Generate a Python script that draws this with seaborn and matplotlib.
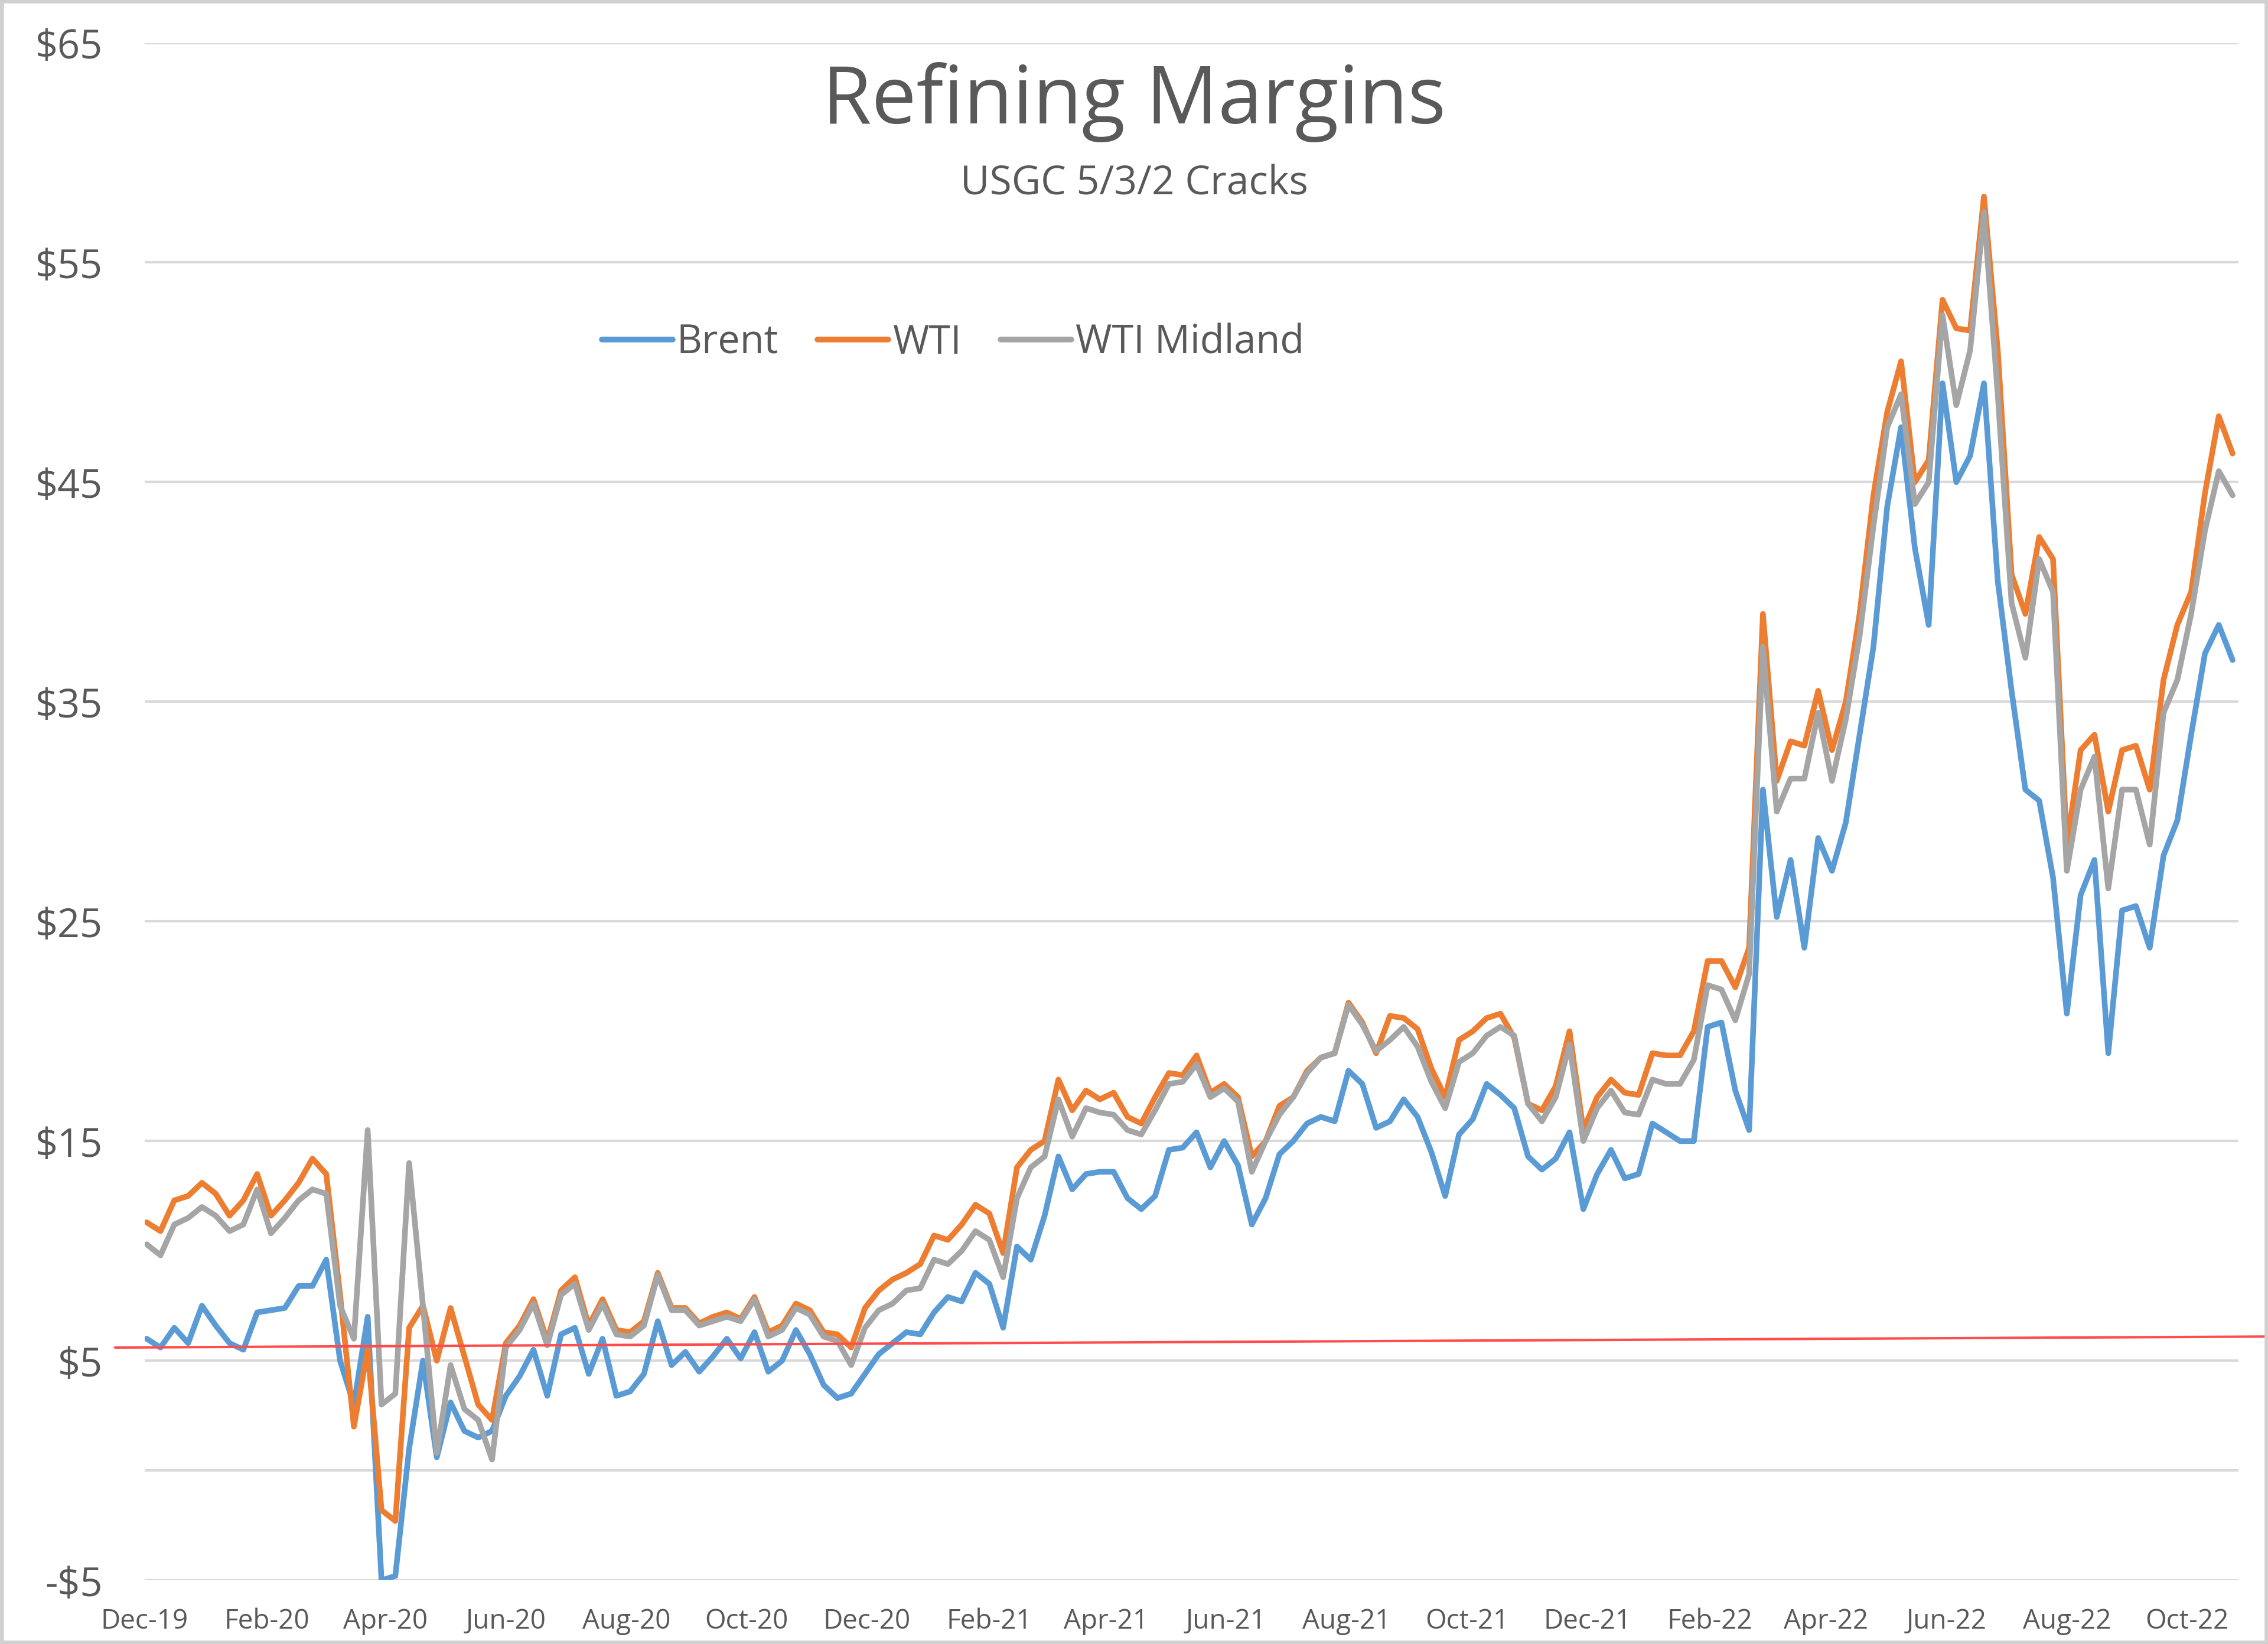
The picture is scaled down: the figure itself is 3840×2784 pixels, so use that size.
import seaborn as sns
import numpy as np
import pandas as pd
import matplotlib
matplotlib.use('Agg')
from matplotlib import pyplot as plt, dates as mdates
from matplotlib.patches import Rectangle

# weekly readings, Dec 2019 - Oct 2022
dates = pd.date_range('2019-12-02', periods=152, freq='7D')

brent = [
    6.0, 5.6, 6.5, 5.8, 7.5, 6.6, 5.8, 5.5, 7.2, 7.3, 7.4, 8.4, 8.4, 9.6, 5.0, 3.0,
    7.0, -5.0, -4.8, 1.0, 5.0, 0.6, 3.1, 1.8, 1.5, 1.8, 3.4, 4.3, 5.5, 3.4, 6.2, 6.5,
    4.4, 6.0, 3.4, 3.6, 4.4, 6.8, 4.8, 5.4, 4.5, 5.2, 6.0, 5.1, 6.3, 4.5, 5.0, 6.4,
    5.3, 3.9, 3.3, 3.5, 4.4, 5.3, 5.8, 6.3, 6.2, 7.2, 7.9, 7.7, 9.0, 8.5, 6.5, 10.2,
    9.6, 11.6, 14.3, 12.8, 13.5, 13.6, 13.6, 12.4, 11.9, 12.5, 14.6, 14.7, 15.4, 13.8,
    15.0, 13.9, 11.2, 12.4, 14.4, 15.0, 15.8, 16.1, 15.9, 18.2, 17.6, 15.6, 15.9, 16.9,
    16.1, 14.5, 12.5, 15.3, 16.0, 17.6, 17.1, 16.5, 14.3, 13.7, 14.2, 15.4, 11.9, 13.5,
    14.6, 13.3, 13.5, 15.8, 15.4, 15.0, 15.0, 20.2, 20.4, 17.3, 15.5, 31.0, 25.2, 27.8,
    23.8, 28.8, 27.3, 29.5, 33.5, 37.5, 43.9, 47.5, 42.0, 38.5, 49.5, 45.0, 46.2, 49.5,
    40.5, 35.5, 31.0, 30.5, 27.0, 20.8, 26.2, 27.8, 19.0, 25.5, 25.7, 23.8, 28.0, 29.6,
    33.5, 37.2, 38.5, 36.9,
]

wti = [
    11.3, 10.9, 12.3, 12.5, 13.1, 12.6, 11.6, 12.3, 13.5, 11.6, 12.3, 13.1, 14.2, 13.5,
    8.0, 2.0, 5.5, -1.8, -2.3, 6.5, 7.5, 5.0, 7.4, 5.2, 3.0, 2.3, 5.8, 6.6, 7.8, 5.9,
    8.2, 8.8, 6.6, 7.8, 6.4, 6.3, 6.8, 9.0, 7.4, 7.4, 6.7, 7.0, 7.2, 6.9, 7.9, 6.3,
    6.6, 7.6, 7.3, 6.3, 6.2, 5.6, 7.4, 8.2, 8.7, 9.0, 9.4, 10.7, 10.5, 11.2, 12.1, 11.7,
    9.9, 13.8, 14.6, 15.0, 17.8, 16.4, 17.3, 16.9, 17.2, 16.1, 15.8, 17.0, 18.1, 18.0,
    18.9, 17.2, 17.6, 17.0, 14.3, 15.0, 16.6, 17.0, 18.2, 18.8, 19.0, 21.3, 20.4, 19.0,
    20.7, 20.6, 20.1, 18.3, 17.0, 19.6, 20.0, 20.6, 20.8, 19.7, 16.7, 16.4, 17.5, 20.0,
    15.5, 17.0, 17.8, 17.2, 17.1, 19.0, 18.9, 18.9, 20.0, 23.2, 23.2, 22.0, 23.8, 39.0,
    31.4, 33.2, 33.0, 35.5, 32.8, 35.0, 39.0, 44.4, 48.2, 50.5, 45.0, 46.0, 53.3, 52.0,
    51.9, 58.0, 51.0, 40.8, 39.0, 42.5, 41.5, 28.5, 32.8, 33.5, 30.0, 32.8, 33.0, 31.0,
    36.0, 38.5, 40.0, 44.5, 48.0, 46.3,
]

wti_midland = [
    10.3, 9.8, 11.2, 11.5, 12.0, 11.6, 10.9, 11.2, 12.8, 10.8, 11.5, 12.3, 12.8, 12.6,
    7.5, 6.0, 15.5, 3.0, 3.5, 14.0, 7.5, 0.8, 4.8, 2.8, 2.3, 0.5, 5.6, 6.4, 7.6, 5.7,
    8.0, 8.5, 6.4, 7.6, 6.2, 6.1, 6.6, 8.9, 7.3, 7.3, 6.6, 6.8, 7.0, 6.8, 7.8, 6.1,
    6.4, 7.4, 7.1, 6.1, 5.9, 4.8, 6.5, 7.3, 7.6, 8.2, 8.3, 9.6, 9.4, 10.0, 10.9, 10.5,
    8.8, 12.4, 13.8, 14.3, 16.9, 15.2, 16.5, 16.3, 16.2, 15.5, 15.3, 16.4, 17.6, 17.7,
    18.5, 17.0, 17.4, 16.8, 13.6, 15.0, 16.2, 17.0, 18.1, 18.8, 19.0, 21.2, 20.3, 19.1,
    19.6, 20.2, 19.3, 17.7, 16.5, 18.6, 19.0, 19.8, 20.2, 19.8, 16.7, 15.9, 17.0, 19.4,
    15.0, 16.5, 17.3, 16.3, 16.2, 17.8, 17.6, 17.6, 18.7, 22.1, 21.9, 20.5, 22.6, 37.5,
    30.0, 31.5, 31.5, 34.5, 31.4, 34.2, 38.0, 43.0, 47.5, 49.0, 44.0, 45.0, 52.6, 48.5,
    51.0, 57.3, 49.0, 39.5, 37.0, 41.5, 40.0, 27.3, 31.0, 32.5, 26.5, 31.0, 31.0, 28.5,
    34.5, 36.0, 39.0, 42.8, 45.5, 44.4,
]

# hand-drawn red reference line
ref_dates = pd.to_datetime(['2019-11-16', '2022-11-10'])
ref_values = [5.6, 6.1]

series_names = ['Brent', 'WTI', 'WTI Midland']
colors = ['#5B9BD5', '#ED7D31', '#A5A5A5']
text_color = '#595959'
grid_color = '#D9D9D9'

df = pd.DataFrame({'date': dates, 'Brent': brent, 'WTI': wti, 'WTI Midland': wti_midland})
long_df = df.melt(id_vars='date', var_name='series', value_name='margin')

sns.set_theme(style='white')
plt.rcParams['font.family'] = ['Open Sans', 'DejaVu Sans']

fig = plt.figure(figsize=(12.8, 9.2833), dpi=300)
ax = fig.add_axes([0.0638, 0.0387, 0.9232, 0.9349])

sns.lineplot(data=long_df, x='date', y='margin', hue='series', hue_order=series_names,
             palette=colors, linewidth=2.3, ax=ax)

ax.plot(ref_dates, ref_values, color='#FF4D4D', linewidth=1.0, zorder=10, clip_on=False)

ax.set_ylim(-5, 65)
ax.set_xlim(pd.Timestamp('2019-12-01'), pd.Timestamp('2022-10-27'))
ax.set_yticks(np.arange(-5, 66, 10))
ax.set_yticklabels([f'-${abs(v)}' if v < 0 else f'${v}' for v in range(-5, 66, 10)])
ax.set_xticks(pd.date_range('2019-12-01', '2022-10-01', freq='2MS'))
ax.xaxis.set_major_formatter(mdates.DateFormatter('%b-%y'))
ax.grid(axis='y', color=grid_color, linewidth=1.0)
ax.axhline(0, color=grid_color, linewidth=1.0, zorder=0)
ax.set_axisbelow(True)
for s in ax.spines.values():
    s.set_visible(False)
ax.tick_params(axis='y', length=0, pad=17, labelsize=16, labelcolor=text_color)
ax.tick_params(axis='x', length=0, pad=11, labelsize=11, labelcolor=text_color)
ax.set_xlabel('')
ax.set_ylabel('')

sns.move_legend(ax, 'center', bbox_to_anchor=(0.386, 0.805), ncol=3, frameon=False,
                title=None, fontsize=16, handlelength=1.8, handletextpad=0.1,
                columnspacing=1.0)
for t in ax.get_legend().get_texts():
    t.set_color(text_color)
for h in ax.get_legend().get_lines():
    h.set_linewidth(2.3)

fig.text(0.5, 0.938, 'Refining Margins', ha='center', va='center', fontsize=32.5, color=text_color)
fig.text(0.5, 0.888, 'USGC 5/3/2 Cracks', ha='center', va='center', fontsize=16.3, color=text_color)

fig.patches.append(Rectangle((0, 0), 1, 1, transform=fig.transFigure, fill=False,
                             edgecolor='#D0D0D0', linewidth=3))

plt.savefig('out.png', dpi=300, facecolor='white')
plt.close()
